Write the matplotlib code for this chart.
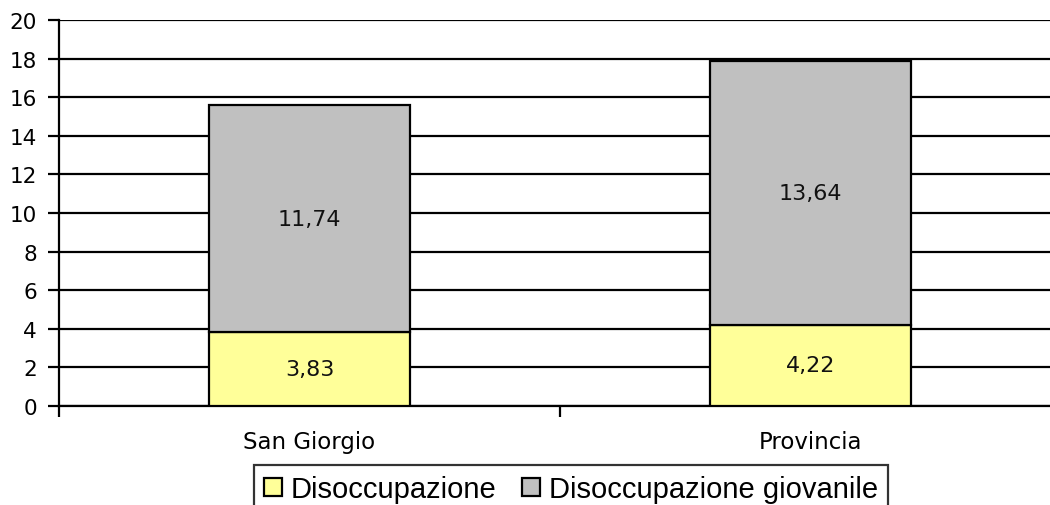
import matplotlib
matplotlib.use("Agg")
import matplotlib.pyplot as plt
from matplotlib.patches import Patch

categories = ["San Giorgio", "Provincia"]
disoccupazione = [3.83, 4.22]
disoccupazione_giovanile = [11.74, 13.64]
series_labels = ["Disoccupazione", "Disoccupazione giovanile"]
y_ticks = [0, 2, 4, 6, 8, 10, 12, 14, 16, 18, 20]

col_base = "#FFFF99"
col_top = "#C0C0C0"

fig = plt.figure(figsize=(10.5, 5.06), dpi=100)
ax = fig.add_axes([59 / 1050, 1 - 407 / 506, 1002 / 1050, 386 / 506])

x = list(range(len(categories)))
w = 0.4
ax.bar(x, disoccupazione, width=w, color=col_base, edgecolor="black", linewidth=1.6, zorder=3)
ax.bar(x, disoccupazione_giovanile, width=w, bottom=disoccupazione, color=col_top,
       edgecolor="black", linewidth=1.6, zorder=3)

for i in x:
    ax.text(i, disoccupazione[i] / 2, f"{disoccupazione[i]:.2f}".replace(".", ","),
            ha="center", va="center", fontsize=16, family="DejaVu Sans", color="#111111", zorder=4)
    ax.text(i, disoccupazione[i] + disoccupazione_giovanile[i] / 2,
            f"{disoccupazione_giovanile[i]:.2f}".replace(".", ","),
            ha="center", va="center", fontsize=16, family="DejaVu Sans", color="#111111", zorder=4)

ax.set_xlim(-0.5, 1.5)
ax.set_ylim(0, 20)
ax.set_yticks(y_ticks)
ax.set_yticklabels([str(t) for t in y_ticks], fontsize=15.5, family="DejaVu Sans")
ax.yaxis.grid(True, color="black", linewidth=1.6, zorder=0)
ax.set_axisbelow(True)

# category ticks sit on the boundaries between groups, labels at group centres
ax.set_xticks([-0.5, 0.5, 1.5])
ax.set_xticklabels(["", "", ""])
ax.set_xticks(x, minor=True)
ax.set_xticklabels(categories, minor=True, fontsize=16.5, family="DejaVu Sans")
ax.tick_params(axis="x", which="minor", length=0, pad=17)
ax.tick_params(axis="x", which="major", length=8, width=1.6, direction="out")
ax.tick_params(axis="y", length=8, width=1.6, direction="out", pad=8)

for s in ["top", "right"]:
    ax.spines[s].set_visible(False)
for s in ["left", "bottom"]:
    ax.spines[s].set_linewidth(1.6)

handles = [Patch(facecolor=col_base, edgecolor="black", linewidth=1.6),
           Patch(facecolor=col_top, edgecolor="black", linewidth=1.6)]
leg = fig.legend(handles, series_labels, loc="upper left",
                 bbox_to_anchor=(254 / 1050, 1 - 466 / 506), ncol=2,
                 prop={"family": "Liberation Sans", "size": 21},
                 frameon=True, fancybox=False, edgecolor="black",
                 handlelength=0.6, handleheight=0.6, handletextpad=0.3,
                 columnspacing=0.9, borderpad=0.35, borderaxespad=0)
leg.get_frame().set_linewidth(1.6)

fig.savefig("out.png", dpi=100, facecolor="white")
